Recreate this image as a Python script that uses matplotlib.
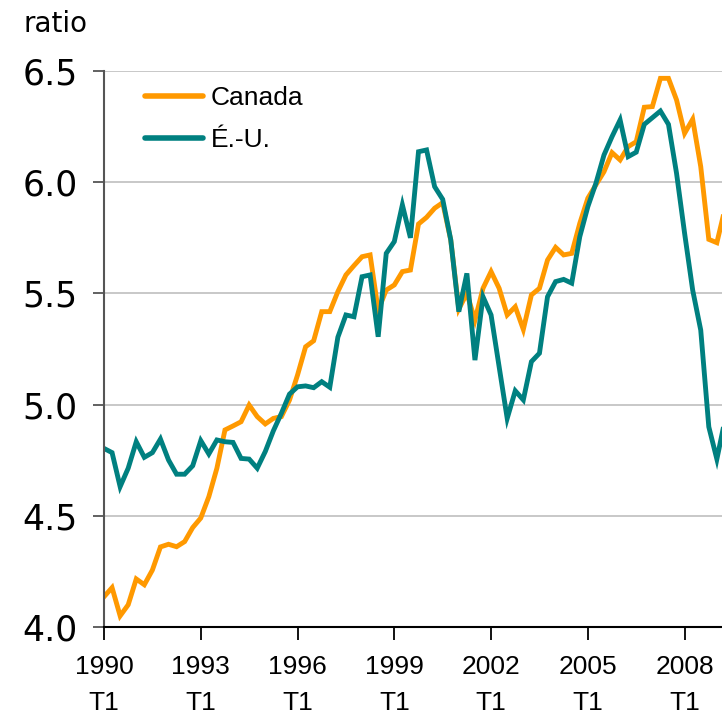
import matplotlib
matplotlib.use("Agg")
import matplotlib.pyplot as plt

# ---- data (quarterly, 1990 T1 onward) ----
canada = [4.136, 4.177, 4.05, 4.10, 4.216, 4.19, 4.256, 4.36, 4.372, 4.361,
          4.384, 4.447, 4.49, 4.586, 4.714, 4.886, 4.904, 4.923, 4.998, 4.946,
          4.913, 4.938, 4.946, 5.02, 5.133, 5.26, 5.287, 5.418, 5.418, 5.508,
          5.583, 5.625, 5.665, 5.673, 5.425, 5.515, 5.538, 5.598, 5.605, 5.812,
          5.842, 5.883, 5.908, 5.74, 5.43, 5.50, 5.38, 5.523, 5.598, 5.523,
          5.403, 5.44, 5.338, 5.493, 5.523, 5.65, 5.707, 5.673, 5.68, 5.815,
          5.928, 5.988, 6.047, 6.133, 6.10, 6.16, 6.182, 6.337, 6.34, 6.467,
          6.467, 6.37, 6.22, 6.283, 6.07, 5.743, 5.728, 5.88]
us = [4.803, 4.784, 4.631, 4.714, 4.833, 4.763, 4.784, 4.845, 4.751, 4.687,
      4.687, 4.725, 4.838, 4.778, 4.841, 4.833, 4.83, 4.758, 4.755, 4.714,
      4.789, 4.882, 4.961, 5.047, 5.08, 5.084, 5.076, 5.103, 5.078, 5.303,
      5.403, 5.395, 5.575, 5.583, 5.305, 5.68, 5.733, 5.898, 5.75, 6.137,
      6.145, 5.98, 5.923, 5.741, 5.418, 5.59, 5.20, 5.485, 5.403, 5.17,
      4.938, 5.062, 5.021, 5.193, 5.231, 5.485, 5.553, 5.563, 5.546, 5.755,
      5.89, 5.995, 6.122, 6.205, 6.28, 6.115, 6.135, 6.26, 6.29, 6.32,
      6.26, 6.04, 5.77, 5.515, 5.335, 4.90, 4.755, 4.93]
tick_years = ["1990", "1993", "1996", "1999", "2002", "2005", "2008"]
tick_quarter = "T1"
series_names = ["Canada", "É.-U."]
colors = ["#FF9900", "#008080"]
yticks = [4.0, 4.5, 5.0, 5.5, 6.0, 6.5]

W, H = 722, 716
fig = plt.figure(figsize=(W / 100, H / 100), dpi=100)
left, bottom, top = 104, 89, 71
ax = fig.add_axes([left / W, bottom / H, 1 - left / W, (H - bottom - top) / H])

x = list(range(len(canada)))
ax.plot(x, canada, color=colors[0], lw=3.5, label=series_names[0], solid_joinstyle="miter")
ax.plot(x, us, color=colors[1], lw=3.5, label=series_names[1], solid_joinstyle="miter")

ax.set_xlim(0, (W - left) / 8.064)
ax.set_ylim(4.0, 6.5)

ax.set_yticks(yticks)
ax.set_yticklabels([f"{v:.1f}" for v in yticks], fontsize=25, family="DejaVu Sans")
ax.yaxis.grid(True, color="#c4c4c4", lw=1.3)
ax.set_axisbelow(True)

ax.set_xticks([12 * i for i in range(len(tick_years))])
ax.set_xticklabels([f"{y}\n{tick_quarter}" for y in tick_years], fontsize=19,
                   family="Liberation Sans", linespacing=1.65)

for s in ["top", "right"]:
    ax.spines[s].set_visible(False)
ax.spines["left"].set_color("#555555")
ax.spines["left"].set_linewidth(1.5)
ax.spines["bottom"].set_color("#000000")
ax.spines["bottom"].set_linewidth(1.5)
ax.tick_params(axis="y", length=8, width=1.3, color="#555555", pad=11)
ax.tick_params(axis="x", length=9, width=1.3, color="#000000", pad=11)

leg = ax.legend(loc="upper left", bbox_to_anchor=(145 / W, 1 - 86 / H),
                bbox_transform=fig.transFigure, frameon=False, borderaxespad=0,
                borderpad=0, handlelength=2.2, handletextpad=0.3, labelspacing=0.68,
                prop={"family": "Liberation Sans", "size": 19})
for line in leg.get_lines():
    line.set_solid_capstyle("round")
    line.set_linewidth(4.0)

fig.text(23 / W, 1 - 24 / H, "ratio", fontsize=20, family="DejaVu Sans",
         ha="left", va="center")

fig.savefig("out.png", dpi=100)
